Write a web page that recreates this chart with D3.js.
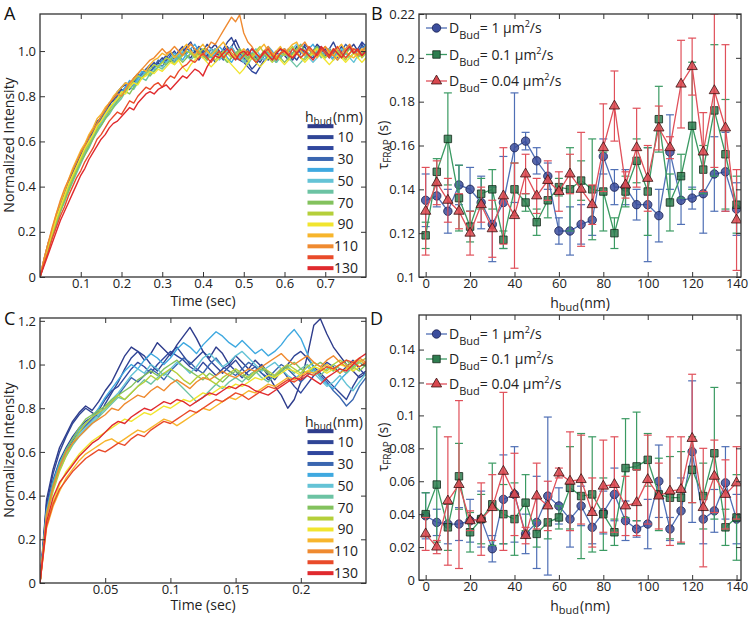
<!DOCTYPE html>
<html><head><meta charset="utf-8">
<script src="https://cdn.jsdelivr.net/npm/d3@7"></script>
<style>body{margin:0;background:#fff}svg{display:block}</style>
</head><body><svg id="c" width="753" height="618"></svg>
<script>
// ---------- DATA ----------
const hBud = [0,10,20,30,40,50,60,70,80,90,100,110,120,130];
const hLegendLabels = ["","10","","30","","50","","70","","90","","110","","130"];
const hColors = ["#2e3c8c","#2f4596","#30479e","#3a66b0","#3fa9e0","#64c3d6","#6cc3a3","#83c25d","#b5cf3a","#f1e52e","#f7b52c","#ef8a30","#e94b2a","#e02a2e"];

// Panel A: normalized intensity x100, sampled every 0.01 s from 0 to 0.80 s
const stepA = 0.01;
const intensityA = [
 [0,8,15,20,27,33,37,42,46,50, 55,58,62,64,68,71,72,76,79,80, 83,82,85,87,86,89,91,90,93,95, 93,96,97,95,99,101,98,97,100,102, 99,98,101,103,100,97,99,102,105,101, 98,96,99,97,95,98,100,97,99,101, 98,96,99,102,100,98,97,100,103,101, 99,97,100,98,102,99,101,103,100,98,101],
 [0,7,14,21,26,31,36,41,47,51, 54,57,62,65,69,70,74,77,78,81, 84,86,84,88,90,89,92,94,92,95, 97,95,98,100,97,99,102,104,100,98, 100,103,101,99,98,101,104,106,102,99, 97,95,92,94,97,99,96,98,100,97, 99,101,98,96,99,103,101,98,100,102, 99,101,104,100,97,99,102,100,98,103,100],
 [0,6,13,19,25,30,36,40,44,49, 53,57,60,64,67,69,72,76,79,82, 84,85,83,86,89,88,91,93,95,93, 96,98,95,97,100,102,99,101,98,96, 99,101,98,95,97,100,102,99,97,96, 95,93,91,90,93,96,98,97,95,99, 101,98,96,99,100,102,98,97,100,99, 101,98,96,99,102,100,97,99,101,104,102],
 [0,7,14,20,26,32,36,41,45,48, 53,56,60,63,67,70,73,75,77,80, 82,84,86,85,88,90,92,91,93,96, 95,97,99,98,96,99,101,100,98,102, 100,97,99,101,98,96,100,102,99,97, 99,101,98,95,97,99,98,96,99,101, 100,98,97,99,101,99,97,100,102,100, 98,101,99,97,100,103,101,99,100,102,101],
 [0,7,13,19,25,30,35,39,44,48, 52,56,59,63,66,69,72,74,77,79, 82,84,87,85,88,91,90,92,94,93, 96,95,97,99,98,96,99,101,103,100, 98,100,97,99,102,100,97,95,98,100, 97,99,101,98,96,99,102,100,97,99, 101,98,99,100,97,99,101,103,100,98, 100,98,97,99,101,100,102,99,98,100,103],
 [0,6,13,18,24,29,34,39,43,47, 51,55,58,62,65,68,71,74,76,78, 80,83,85,84,87,89,91,90,92,94, 93,95,97,96,98,100,97,99,101,99, 97,99,101,98,96,98,100,102,99,97, 95,97,99,101,98,96,99,97,95,98, 100,98,101,103,100,98,97,95,97,99, 100,98,96,99,101,99,97,95,98,100,102],
 [0,6,12,18,23,29,33,38,42,46, 50,54,57,61,64,67,70,72,75,77, 79,82,84,83,86,88,87,90,91,93, 92,94,96,95,97,99,98,96,98,100, 98,96,99,101,99,97,95,97,99,98, 96,94,97,99,96,98,100,97,95,97, 99,97,95,93,95,97,99,98,100,97, 99,101,98,96,98,100,97,99,101,98,100],
 [0,6,13,18,24,29,34,38,43,47, 51,54,58,61,65,67,70,73,75,78, 80,82,81,84,86,88,90,89,91,93, 95,94,96,98,97,95,97,99,98,100, 98,96,98,100,99,97,95,97,99,101, 99,97,99,96,98,100,98,96,98,97, 95,97,99,101,103,100,98,100,102,99, 97,99,98,100,97,99,101,99,97,99,101],
 [0,7,13,19,25,30,35,40,44,48, 52,56,59,63,66,69,72,74,77,79, 81,83,85,87,89,88,90,92,94,93, 95,97,96,94,96,98,100,99,97,99, 101,100,98,96,98,100,99,97,98,100, 98,96,98,100,102,99,97,95,97,99, 98,100,102,99,97,96,98,100,101,99, 97,99,101,100,98,96,99,101,100,97,99],
 [0,7,14,20,26,31,36,41,45,49, 53,57,60,63,67,69,72,75,77,79, 82,81,84,86,85,88,89,91,90,92, 91,93,95,94,96,93,91,94,96,98, 97,95,93,95,97,99,96,94,92,90, 92,95,97,95,93,95,97,99,98,96, 94,96,98,100,97,95,97,99,101,98, 96,94,96,98,97,95,97,99,97,95,97],
 [0,8,15,21,28,33,38,43,48,52, 56,59,63,66,70,72,75,77,80,82, 84,86,85,88,90,92,91,94,96,97, 99,98,100,97,99,101,103,100,98,101, 103,100,98,100,102,104,101,99,97,99, 101,99,97,99,101,103,100,98,100,102, 99,101,103,104,100,98,101,99,97,100, 102,99,98,101,103,100,98,97,99,101,100],
 [0,8,15,22,28,34,39,43,47,51, 55,58,62,65,68,71,74,77,79,81, 80,83,86,88,90,92,94,96,97,99, 101,99,100,102,100,98,101,103,101,99, 98,101,104,103,106,109,112,115,113,116, 108,104,102,99,97,100,102,99,97,99, 101,99,97,100,102,104,101,99,98,100, 102,100,98,96,99,101,103,100,98,100,102],
 [0,6,11,17,22,27,31,36,40,44, 47,51,54,57,61,63,66,69,71,73, 72,75,78,77,80,82,84,83,85,86, 84,87,89,88,91,93,94,96,95,97, 99,97,95,98,100,97,99,101,98,96, 98,100,97,95,97,99,101,98,96,99, 100,98,101,99,97,99,102,100,98,101, 99,97,100,102,99,97,99,101,100,98,100],
 [0,5,10,15,20,25,29,33,37,41, 45,48,52,55,58,61,63,66,68,69, 71,73,75,74,77,79,81,82,81,83, 84,85,83,85,87,89,88,90,92,91, 89,93,96,98,97,99,101,98,96,99, 100,98,101,99,97,100,98,96,99,101, 100,98,97,99,101,100,98,96,99,102, 100,98,101,99,97,100,102,99,101,98,100]
];

// Panel C: normalized intensity x100, sampled every 0.005 s from 0 to 0.25 s
const stepC = 0.005;
const intensityC = [
 [0,38,52,62,68,74,78,81,79,83, 88,92,98,104,108,106,102,105,110,107, 104,109,113,117,112,106,103,108,105,100, 104,101,98,102,99,95,90,86,80,84, 92,104,118,121,114,108,104,100,97,94,96],
 [0,36,50,60,67,73,77,80,78,76, 82,87,92,98,103,106,104,100,97,101, 105,108,104,100,103,106,102,99,96,99, 102,98,95,97,100,96,93,97,100,104, 106,103,99,96,93,90,87,84,90,95,97],
 [0,34,47,56,62,67,71,74,76,79, 84,88,90,94,98,101,99,96,100,103, 106,104,102,99,97,101,98,95,98,100, 97,94,97,99,96,93,95,98,94,90, 87,91,95,98,101,99,96,99,102,98,95],
 [0,33,45,54,60,65,69,72,75,78, 80,83,86,90,94,92,95,98,96,93, 97,100,103,101,98,96,100,103,99,97, 95,98,101,99,96,94,97,100,98,95, 92,95,98,95,92,88,85,81,84,90,94],
 [0,33,46,55,61,66,70,73,76,80, 85,89,93,97,100,98,102,105,103,100, 103,107,110,108,105,109,112,115,113,110, 108,111,108,105,107,104,106,109,113,116, 112,105,98,94,91,89,93,96,99,102,100],
 [0,32,44,53,59,64,68,71,74,77, 80,84,87,91,95,98,96,100,98,95, 98,101,99,96,99,103,105,102,99,101, 104,106,103,100,97,99,101,98,95,93, 96,99,96,93,90,92,95,91,88,92,96],
 [0,31,43,52,58,63,67,70,73,76, 79,82,85,84,87,90,93,91,94,96, 94,92,89,86,83,85,88,91,89,92, 94,92,95,97,94,92,95,97,99,96, 98,100,97,95,98,100,98,96,99,101,99],
 [0,32,45,54,61,66,71,75,77,79, 81,84,86,88,90,93,95,97,95,98, 100,102,99,97,95,93,96,94,92,95, 97,95,93,96,98,96,94,97,99,101, 98,96,99,101,99,97,100,102,99,97,100],
 [0,30,42,51,58,64,69,73,76,78, 80,83,86,84,87,90,92,95,93,96, 98,96,93,91,94,96,93,91,94,96, 98,96,94,97,99,97,95,98,100,98, 96,99,101,99,97,100,102,100,98,101,103],
 [0,27,37,45,51,55,59,62,65,67, 69,71,73,75,74,76,78,77,79,81, 80,82,84,83,85,87,86,88,90,89, 91,90,92,94,93,95,94,96,98,97, 95,97,99,98,96,98,100,99,97,99,101],
 [0,25,35,42,48,52,56,59,61,63, 65,66,64,66,68,70,69,71,73,75, 74,72,74,76,78,80,79,81,83,85, 84,86,88,87,89,91,90,92,94,93, 95,97,96,98,100,98,96,98,100,102,100],
 [0,31,44,53,60,64,67,70,73,75, 77,80,79,82,84,86,85,88,90,88, 91,93,91,89,92,94,93,95,97,95, 94,96,98,97,99,101,103,105,102,100, 102,104,101,99,102,104,101,99,101,103,101],
 [0,26,36,43,47,51,54,57,59,61, 60,62,64,63,66,68,67,70,72,74, 73,75,77,79,78,80,82,84,83,85, 87,86,84,86,88,90,89,91,93,92, 94,96,95,97,99,98,100,102,101,99,101],
 [0,28,39,46,50,54,58,61,64,66, 69,72,74,73,76,78,80,79,81,83, 82,84,83,81,83,85,87,86,88,90, 89,91,90,88,87,86,88,90,92,94, 93,95,93,91,94,96,98,97,100,103,105]
];

// Panels B and D: tau_FRAP (s) vs h_bud (nm), with error half-widths
const hB = [0,5,10,15,20,25,30,35,40,45,50,55,60,65,70,75,80,85,90,95,100,105,110,115,120,125,130,135,140];
const seriesNames = ["1", "0.1", "0.04"];
const bBlue  = [0.135,0.137,0.130,0.142,0.140,0.134,0.124,0.134,0.159,0.162,0.153,0.146,0.121,0.121,0.124,0.126,0.155,0.141,0.141,0.133,0.133,0.128,0.157,0.135,0.136,0.138,0.147,0.148,0.131];
const bBlueErr = [0.012,0.005,0.010,0.009,0.010,0.012,0.017,0.021,0.025,0.004,0.006,0.006,0.006,0.011,0.009,0.007,0.008,0.008,0.008,0.007,0.026,0.012,0.017,0.011,0.005,0.018,0.017,0.018,0.012];
const bGreen = [0.119,0.148,0.163,0.136,0.123,0.138,0.140,0.117,0.140,0.134,0.125,0.135,0.141,0.140,0.144,0.140,0.139,0.120,0.139,0.153,0.139,0.172,0.134,0.146,0.169,0.149,0.176,0.156,0.133];
const bGreenErr = [0.006,0.006,0.021,0.015,0.007,0.007,0.009,0.004,0.012,0.004,0.006,0.008,0.004,0.019,0.009,0.023,0.018,0.007,0.007,0.010,0.020,0.015,0.013,0.010,0.029,0.011,0.030,0.025,0.013];
const bRed = [0.130,0.143,0.135,0.130,0.120,0.133,0.122,0.137,0.128,0.147,0.137,0.144,0.139,0.147,0.140,0.133,0.159,0.178,0.142,0.159,0.145,0.168,0.159,0.188,0.196,0.157,0.185,0.168,0.126];
const bRedErr = [0.020,0.010,0.010,0.008,0.010,0.008,0.013,0.022,0.024,0.009,0.008,0.009,0.009,0.009,0.026,0.009,0.020,0.016,0.006,0.018,0.015,0.010,0.005,0.020,0.013,0.018,0.035,0.038,0.023];

const dBlue = [0.039,0.035,0.034,0.034,0.036,0.037,0.019,0.049,0.052,0.028,0.035,0.051,0.045,0.037,0.045,0.032,0.041,0.052,0.036,0.031,0.034,0.060,0.031,0.042,0.078,0.037,0.042,0.059,0.037];
const dBlueErr = [0.014,0.008,0.012,0.010,0.013,0.017,0.008,0.027,0.029,0.012,0.028,0.048,0.011,0.017,0.012,0.010,0.013,0.016,0.012,0.005,0.015,0.022,0.007,0.020,0.043,0.015,0.013,0.022,0.015];
const dGreen = [0.040,0.058,0.032,0.063,0.029,0.037,0.046,0.040,0.037,0.047,0.028,0.035,0.038,0.056,0.051,0.052,0.040,0.029,0.068,0.069,0.073,0.052,0.050,0.050,0.067,0.051,0.077,0.032,0.038];
const dGreenErr = [0.013,0.035,0.014,0.020,0.012,0.015,0.025,0.018,0.022,0.017,0.008,0.010,0.007,0.025,0.038,0.035,0.022,0.008,0.030,0.033,0.016,0.022,0.025,0.028,0.020,0.020,0.040,0.011,0.026];
const dRed = [0.028,0.020,0.048,0.058,0.036,0.037,0.044,0.066,0.052,0.027,0.051,0.045,0.065,0.060,0.061,0.041,0.057,0.058,0.045,0.047,0.061,0.051,0.054,0.055,0.086,0.044,0.063,0.052,0.059];
const dRedErr = [0.010,0.004,0.039,0.051,0.006,0.022,0.020,0.048,0.025,0.005,0.020,0.015,0.003,0.030,0.027,0.021,0.028,0.029,0.018,0.020,0.027,0.020,0.033,0.032,0.039,0.036,0.022,0.021,0.022];

// Tick values and labels
const xTicksA = [0.1,0.2,0.3,0.4,0.5,0.6,0.7];
const xLabelsA = ["0.1","0.2","0.3","0.4","0.5","0.6","0.7"];
const yTicksA = [0,0.2,0.4,0.6,0.8,1.0];
const yLabelsA = ["0","0.2","0.4","0.6","0.8","1.0"];
const xTicksC = [0.05,0.1,0.15,0.2];
const xLabelsC = ["0.05","0.1","0.15","0.2"];
const yTicksC = [0,0.2,0.4,0.6,0.8,1.0,1.2];
const yLabelsC = ["0","0.2","0.4","0.6","0.8","1.0","1.2"];
const xTicksBD = [0,20,40,60,80,100,120,140];
const xLabelsBD = ["0","20","40","60","80","100","120","140"];
const yTicksB = [0.1,0.12,0.14,0.16,0.18,0.2,0.22];
const yLabelsB = ["0.1","0.12","0.14","0.16","0.18","0.2","0.22"];
const yTicksD = [0,0.02,0.04,0.06,0.08,0.1,0.12,0.14];
const yLabelsD = ["0","0.02","0.04","0.06","0.08","0.1","0.12","0.14"];

// ---------- DRAWING ----------
const FONT = '"Open Sans", "Liberation Sans", sans-serif';
const svg = d3.select("#c");
let clipN = 0;

function axesBox(x, y, xt, xl, yt, yl) {
  const g = svg.append("g");
  const [x0, x1] = x.range(), [yb, yt0] = y.range();
  const style = s => s.attr("font-family", FONT).attr("font-size", 13);
  g.append("g").attr("transform", `translate(0,${yb})`).call(d3.axisBottom(x).tickValues(xt).tickFormat((d,i)=>xl[i]).tickSize(-5).tickPadding(2)).call(style);
  g.append("g").attr("transform", `translate(0,${yt0})`).call(d3.axisTop(x).tickValues(xt).tickFormat("").tickSize(-5));
  g.append("g").attr("transform", `translate(${x0},0)`).call(d3.axisLeft(y).tickValues(yt).tickFormat((d,i)=>yl[i]).tickSize(-5).tickPadding(4)).call(style);
  g.append("g").attr("transform", `translate(${x1},0)`).call(d3.axisRight(y).tickValues(yt).tickFormat("").tickSize(-5));
  g.selectAll(".domain").remove();
  g.selectAll(".tick line").attr("stroke", "#333").attr("stroke-width", 1);
  g.selectAll(".tick text").attr("fill", "#222");
  g.append("rect").attr("x", x0).attr("y", yt0).attr("width", x1 - x0).attr("height", yb - yt0)
    .attr("fill", "none").attr("stroke", "#333").attr("stroke-width", 1.3);
}

function clipFor(x, y) {
  const id = "clip" + (clipN++);
  const [x0, x1] = x.range(), [yb, yt0] = y.range();
  svg.append("clipPath").attr("id", id).append("rect").attr("x", x0).attr("y", yt0).attr("width", x1 - x0).attr("height", yb - yt0);
  return svg.append("g").attr("clip-path", `url(#${id})`);
}

function curvePanel(x, y, step, data) {
  const g = clipFor(x, y);
  const line = d3.line().x((d, i) => x(i * step)).y(d => y(d / 100));
  data.forEach((vals, k) => {
    g.append("path").attr("d", line(vals)).attr("fill", "none")
      .attr("stroke", hColors[k]).attr("stroke-width", 1.4).attr("stroke-linejoin", "round");
  });
}

function hLegend(headerY) {
  const t = svg.append("text").attr("x", 305).attr("y", headerY).attr("font-family", FONT).attr("font-size", 14).attr("fill", "#222");
  t.append("tspan").text("h");
  t.append("tspan").attr("font-size", 10).attr("dy", 3).text("bud");
  t.append("tspan").attr("dy", -3).attr("dx", 1).text("(nm)");
  hBud.forEach((h, i) => {
    const ly = headerY + 4.7 + i * 10.92;
    svg.append("line").attr("x1", 307.5).attr("x2", 333.5).attr("y1", ly).attr("y2", ly)
      .attr("stroke", hColors[i]).attr("stroke-width", 4);
    if (hLegendLabels[i]) {
      svg.append("text").attr("x", hLegendLabels[i].length > 2 ? 334 : 337.5).attr("y", ly + 5)
        .attr("font-family", FONT).attr("font-size", 14).attr("fill", "#222").text(hLegendLabels[i]);
    }
  });
}

const styles = [
  { line: "#4f6fb5", fill: "#3b4d9c", stroke: "#1b2150", sym: d3.symbolCircle, size: 56 },
  { line: "#3a9a62", fill: "#2e7d4f", stroke: "#142a1a", sym: d3.symbolSquare, size: 56 },
  { line: "#e0505a", fill: "#d8474e", stroke: "#3a1010", sym: d3.symbolTriangle, size: 46 }
];

function errPanel(x, y, vals, errs) {
  const g = clipFor(x, y);
  vals.forEach((v, s) => {
    const st = styles[s], e = errs[s];
    const sg = g.append("g");
    hB.forEach((h, i) => {
      const cx = x(h), ylo = y(v[i] - e[i]), yhi = y(v[i] + e[i]);
      sg.append("line").attr("x1", cx).attr("x2", cx).attr("y1", ylo).attr("y2", yhi).attr("stroke", st.line).attr("stroke-width", 1.2);
      [ylo, yhi].forEach(yy => sg.append("line").attr("x1", cx - 4).attr("x2", cx + 4).attr("y1", yy).attr("y2", yy).attr("stroke", st.line).attr("stroke-width", 1.2));
    });
    sg.append("path").attr("d", d3.line().x((d, i) => x(hB[i])).y(d => y(d))(v))
      .attr("fill", "none").attr("stroke", st.line).attr("stroke-width", 1.3);
    hB.forEach((h, i) => {
      sg.append("path").attr("d", d3.symbol().type(st.sym).size(st.size)())
        .attr("transform", `translate(${x(h)},${y(v[i])})`)
        .attr("fill", st.fill).attr("fill-opacity", 0.85).attr("stroke", st.stroke).attr("stroke-width", 0.8);
    });
  });
}

function dLegend(rows) {
  rows.forEach((ry, s) => {
    const st = styles[s];
    svg.append("line").attr("x1", 426).attr("x2", 447).attr("y1", ry).attr("y2", ry).attr("stroke", st.line).attr("stroke-width", 1.3);
    svg.append("path").attr("d", d3.symbol().type(st.sym).size(st.size)()).attr("transform", `translate(436.5,${ry})`)
      .attr("fill", st.fill).attr("stroke", st.stroke).attr("stroke-width", 0.8);
    const t = svg.append("text").attr("x", 449).attr("y", ry + 5).attr("font-family", FONT).attr("font-size", 14).attr("fill", "#222");
    t.append("tspan").text("D");
    t.append("tspan").attr("font-size", 11).attr("dy", 6).text("Bud");
    t.append("tspan").attr("dy", -6).text("= " + seriesNames[s] + " \u03BCm");
    t.append("tspan").attr("font-size", 9).attr("dy", -6).text("2");
    t.append("tspan").attr("dy", 6).text("/s");
  });
}

function xLabelTime(cx, yy) {
  svg.append("text").attr("x", cx).attr("y", yy).attr("text-anchor", "middle").attr("font-family", FONT).attr("font-size", 14).attr("fill", "#222").text("Time (sec)");
}
function xLabelH(cx, yy) {
  const t = svg.append("text").attr("x", cx).attr("y", yy).attr("text-anchor", "middle").attr("font-family", FONT).attr("font-size", 14).attr("fill", "#222");
  t.append("tspan").text("h");
  t.append("tspan").attr("font-size", 11).attr("dy", 3).text("bud");
  t.append("tspan").attr("dy", -3).attr("dx", 1).text("(nm)");
}
function yLabelNorm(cx, cy) {
  svg.append("text").attr("transform", `translate(${cx},${cy}) rotate(-90)`).attr("text-anchor", "middle")
    .attr("font-family", FONT).attr("font-size", 14).attr("fill", "#222").text("Normalized Intensity");
}
function yLabelTau(cx, cy) {
  const t = svg.append("text").attr("transform", `translate(${cx},${cy}) rotate(-90)`).attr("text-anchor", "middle")
    .attr("font-family", FONT).attr("font-size", 14).attr("fill", "#222");
  t.append("tspan").text("\u03C4");
  t.append("tspan").attr("font-size", 10).attr("dy", 3).text("FRAP");
  t.append("tspan").attr("dy", -3).text(" (s)");
}
function letter(s, x, y) {
  svg.append("text").attr("x", x).attr("y", y).attr("font-family", FONT).attr("font-size", 18).attr("fill", "#111").text(s);
}

// Panel A
const xA = d3.scaleLinear().domain([0, 0.8]).range([40, 366]);
const yA = d3.scaleLinear().domain([0, 1.164]).range([277, 14]);
curvePanel(xA, yA, stepA, intensityA);
axesBox(xA, yA, xTicksA, xLabelsA, yTicksA, yLabelsA);
hLegend(121.5);
xLabelTime(203, 306);
yLabelNorm(14, 145);
letter("A", 4, 20);

// Panel B
const xB = d3.scaleLinear().domain([-3, 142]).range([419, 741]);
const yB = d3.scaleLinear().domain([0.1, 0.22]).range([277, 14]);
errPanel(xB, yB, [bBlue, bGreen, bRed], [bBlueErr, bGreenErr, bRedErr]);
axesBox(xB, yB, xTicksBD, xLabelsBD, yTicksB, yLabelsB);
dLegend([28, 54.5, 81]);
xLabelH(580, 308);
yLabelTau(388, 145);
letter("B", 371, 20);

// Panel C
const xC = d3.scaleLinear().domain([0, 0.25]).range([40, 366]);
const yC = d3.scaleLinear().domain([0, 1.213]).range([583, 318]);
curvePanel(xC, yC, stepC, intensityC);
axesBox(xC, yC, xTicksC, xLabelsC, yTicksC, yLabelsC);
hLegend(426.5);
xLabelTime(203, 610);
yLabelNorm(14, 450);
letter("C", 4, 325);

// Panel D
const xD = d3.scaleLinear().domain([-3, 142]).range([419, 741]);
const yD = d3.scaleLinear().domain([0, 0.161]).range([580, 315]);
errPanel(xD, yD, [dBlue, dGreen, dRed], [dBlueErr, dGreenErr, dRedErr]);
axesBox(xD, yD, xTicksBD, xLabelsBD, yTicksD, yLabelsD);
dLegend([334, 359, 384]);
xLabelH(580, 611);
yLabelTau(388, 447);
letter("D", 370, 325);
</script></body></html>
